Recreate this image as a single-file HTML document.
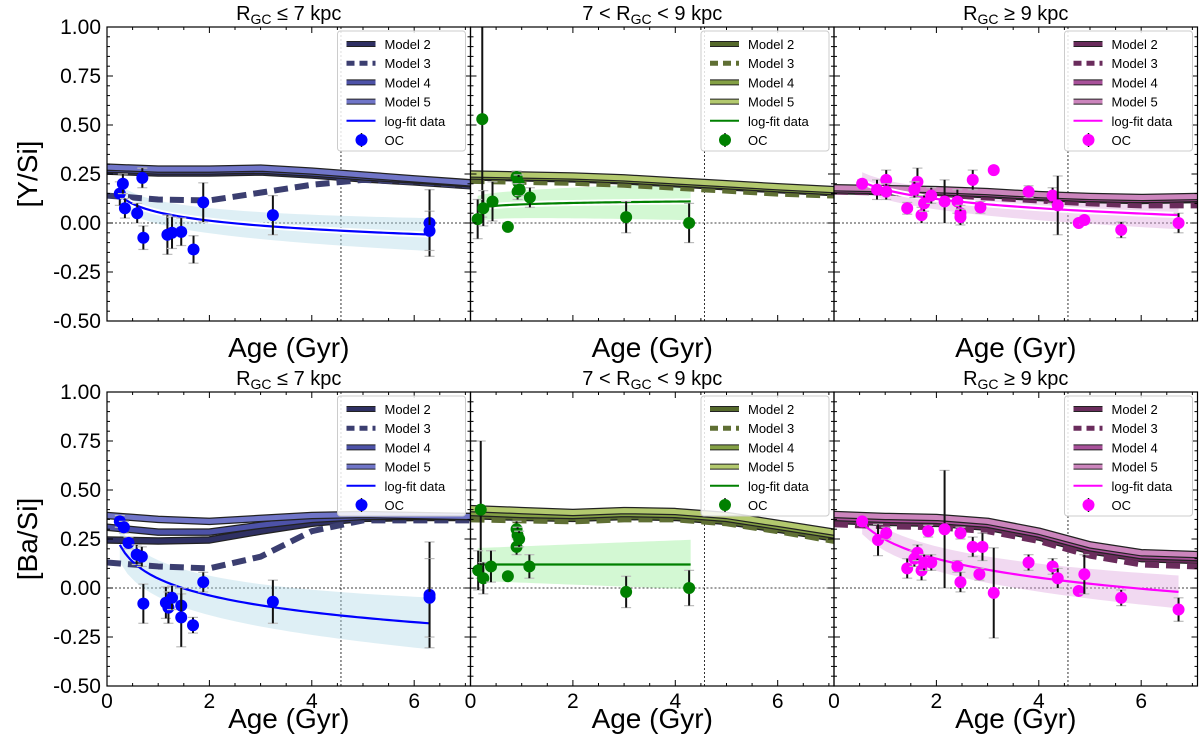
<!DOCTYPE html>
<html><head><meta charset="utf-8"><style>
html,body{margin:0;padding:0;background:#fff;}
svg{display:block;font-family:"Liberation Sans","DejaVu Sans",sans-serif;}
</style></head><body>
<svg id="fig" width="1200" height="748" viewBox="0 0 1200 748" xmlns="http://www.w3.org/2000/svg"></svg>
<script>
// ---- data ----
const modelAges = [0, 1, 2, 3, 4, 5, 6, 7.1];
// top-left [Y/Si], R<=7
const tlM2 = [0.265,0.255,0.255,0.26,0.245,0.225,0.21,0.19];
const tlM3 = [0.14,0.12,0.115,0.155,0.195,0.22,0.21,0.19];
const tlM4 = [0.275,0.265,0.265,0.27,0.255,0.235,0.22,0.20];
const tlM5 = [0.285,0.275,0.275,0.28,0.265,0.245,0.225,0.205];
const tlAge = [0.25,0.31,0.35,0.59,0.69,0.71,1.18,1.27,1.45,1.69,1.88,3.24,6.3,6.3];
const tlVal = [0.15,0.20,0.075,0.05,0.23,-0.075,-0.06,-0.05,-0.045,-0.135,0.105,0.04,0.0,-0.04];
const tlErr = [0.06,0.05,0.05,0.05,0.05,0.06,0.1,0.08,0.07,0.07,0.1,0.1,0.17,0.1];
const tlFit = [0.055,-0.062,0.25,6.3,0.07];
// bottom-left [Ba/Si]
const blM2 = [0.245,0.24,0.245,0.29,0.33,0.355,0.36,0.36];
const blM3 = [0.13,0.11,0.10,0.16,0.29,0.345,0.345,0.345];
const blM4 = [0.31,0.285,0.285,0.32,0.35,0.365,0.365,0.365];
const blM5 = [0.37,0.35,0.34,0.355,0.37,0.375,0.37,0.365];
const blAge = [0.25,0.33,0.42,0.58,0.68,0.71,1.15,1.2,1.27,1.45,1.45,1.68,1.88,3.24,6.3,6.3];
const blVal = [0.34,0.31,0.23,0.17,0.16,-0.08,-0.075,-0.10,-0.05,-0.09,-0.15,-0.19,0.03,-0.07,-0.035,-0.05];
const blErr = [0.03,0.03,0.03,0.05,0.05,0.1,0.08,0.08,0.06,0.06,0.15,0.04,0.05,0.11,0.27,0.2];
const blFit = [0.048,-0.124,0.25,6.3,0.11];
// top-middle [Y/Si], 7<R<9
const tmM2 = [0.235,0.23,0.225,0.215,0.20,0.185,0.17,0.155];
const tmM3 = [0.215,0.21,0.205,0.195,0.18,0.165,0.15,0.14];
const tmM4 = [0.24,0.235,0.23,0.22,0.205,0.19,0.175,0.16];
const tmM5 = [0.25,0.245,0.24,0.23,0.215,0.20,0.185,0.17];
const tmAge = [0.23,0.14,0.25,0.43,0.73,0.9,0.94,0.92,0.96,1.16,3.04,4.27];
const tmVal = [0.53,0.02,0.075,0.11,-0.02,0.235,0.205,0.16,0.17,0.13,0.03,0.0];
const tmErr = [0.5,0.1,0.09,0.1,0.0,0.03,0.04,0.04,0.03,0.05,0.08,0.1];
const tmFit = [0.095,0.0104,0.14,4.3,0.08];
// bottom-middle [Ba/Si]
const bmM2 = [0.37,0.36,0.355,0.365,0.36,0.34,0.30,0.255];
const bmM3 = [0.35,0.345,0.34,0.35,0.35,0.33,0.29,0.24];
const bmM4 = [0.385,0.375,0.37,0.38,0.375,0.355,0.315,0.27];
const bmM5 = [0.405,0.395,0.385,0.395,0.39,0.37,0.33,0.285];
const bmAge = [0.2,0.15,0.25,0.4,0.73,0.9,0.92,0.9,0.95,1.15,3.04,4.27];
const bmVal = [0.40,0.09,0.05,0.11,0.06,0.30,0.27,0.21,0.25,0.11,-0.02,0.0];
const bmErr = [0.35,0.1,0.08,0.08,0.0,0.04,0.04,0.04,0.04,0.06,0.08,0.09];
const bmFit = [0.12,0.0,0.14,4.3,0.105];
// top-right [Y/Si], R>=9
const trM2 = [0.165,0.16,0.155,0.145,0.13,0.12,0.115,0.12];
const trM3 = [0.16,0.155,0.145,0.13,0.115,0.10,0.09,0.09];
const trM4 = [0.17,0.165,0.16,0.15,0.135,0.125,0.12,0.125];
const trM5 = [0.18,0.175,0.17,0.16,0.145,0.135,0.13,0.135];
const trAge = [0.55,0.84,1.02,1.02,1.43,1.63,1.57,1.71,1.76,1.9,2.16,2.41,2.47,2.47,2.71,2.86,3.12,3.8,4.27,4.37,4.78,4.89,5.61,6.73];
const trVal = [0.20,0.17,0.22,0.16,0.075,0.21,0.17,0.04,0.10,0.14,0.11,0.11,0.05,0.03,0.22,0.08,0.27,0.16,0.14,0.09,0.0,0.015,-0.035,0.0];
const trErr = [0.02,0.05,0.05,0.04,0.03,0.07,0.04,0.04,0.04,0.04,0.11,0.06,0.04,0.04,0.05,0.03,0.0,0.03,0.04,0.15,0.0,0.02,0.04,0.05];
const trFit = [0.17,-0.068,0.55,6.73,0.06];
// bottom-right [Ba/Si]
const brM2 = [0.345,0.335,0.33,0.31,0.26,0.19,0.15,0.14];
const brM3 = [0.325,0.315,0.31,0.29,0.24,0.165,0.12,0.11];
const brM4 = [0.36,0.35,0.345,0.325,0.275,0.205,0.165,0.155];
const brM5 = [0.375,0.365,0.36,0.34,0.29,0.22,0.18,0.17];
const brAge = [0.55,0.86,1.02,1.43,1.57,1.63,1.71,1.76,1.9,1.84,2.16,2.41,2.47,2.47,2.71,2.84,2.9,3.12,3.8,4.27,4.37,4.78,4.89,5.61,6.73];
const brVal = [0.34,0.245,0.28,0.10,0.15,0.18,0.09,0.13,0.13,0.29,0.30,0.11,0.28,0.03,0.21,0.07,0.21,-0.025,0.13,0.11,0.05,-0.015,0.07,-0.05,-0.11];
const brErr = [0.02,0.08,0.03,0.05,0.04,0.04,0.05,0.04,0.04,0.03,0.3,0.03,0.03,0.05,0.05,0.03,0.07,0.23,0.04,0.04,0.05,0.0,0.1,0.04,0.06];
const brFit = [0.247,-0.14,0.55,6.73,0.07];

const yTicks = [-0.50,-0.25,0.00,0.25,0.50,0.75,1.00];
const xTicks = [0,2,4,6];

const NS = "http://www.w3.org/2000/svg";
const svg = document.getElementById('fig');
function mk(tag, attrs, parent){
  const e = document.createElementNS(NS, tag);
  for (const k in attrs) e.setAttribute(k, attrs[k]);
  (parent||svg).appendChild(e);
  return e;
}
const panelX = [107, 470.5, 834];
const panelW = 363.5;
const rowTop = [27, 392];
const rowH = 294;
const XMAX = 7.1;

const palettes = [
  {m:['#2f3063','#3b3e70','#4d52a8','#7075c8'], fit:'#0000ff', band:'#add8e6', oc:'#0000ff'},
  {m:['#55692b','#5f6f33','#84a045','#b3c96e'], fit:'#008000', band:'#90ee90', oc:'#008000'},
  {m:['#6a2c5c','#6a2c5c','#a8519a','#cc85bd'], fit:'#ff00ff', band:'#dda0dd', oc:'#ff00ff'}
];
const titles = [['R','GC',' ≤ 7 kpc'],['7 < R','GC',' < 9 kpc'],['R','GC',' ≥ 9 kpc']];

const panels = [
  {r:0,c:0,m:[tlM2,tlM3,tlM4,tlM5],a:tlAge,v:tlVal,e:tlErr,f:tlFit,name:'ysi-inner'},
  {r:0,c:1,m:[tmM2,tmM3,tmM4,tmM5],a:tmAge,v:tmVal,e:tmErr,f:tmFit,name:'ysi-solar'},
  {r:0,c:2,m:[trM2,trM3,trM4,trM5],a:trAge,v:trVal,e:trErr,f:trFit,name:'ysi-outer'},
  {r:1,c:0,m:[blM2,blM3,blM4,blM5],a:blAge,v:blVal,e:blErr,f:blFit,name:'basi-inner'},
  {r:1,c:1,m:[bmM2,bmM3,bmM4,bmM5],a:bmAge,v:bmVal,e:bmErr,f:bmFit,name:'basi-solar'},
  {r:1,c:2,m:[brM2,brM3,brM4,brM5],a:brAge,v:brVal,e:brErr,f:brFit,name:'basi-outer'}
];

panels.forEach(p=>{
  const X = t => panelX[p.c] + t/XMAX*panelW;
  const Y = v => rowTop[p.r] + (1.0 - v)/1.5*rowH;
  const pal = palettes[p.c];
  const g = mk('g',{});
  
  
  const x0 = panelX[p.c], x1 = x0+panelW, y0 = rowTop[p.r], y1 = y0+rowH;
  const cp = 'clip'+p.r+p.c;
  const cpe = mk('clipPath',{id:cp}, g);
  mk('rect',{x:x0,y:y0,width:panelW,height:rowH},cpe);
  const inner = mk('g',{'clip-path':'url(#'+cp+')'}, g);
  const hz = mk('line',{x1:x0,x2:x1,y1:Y(0),y2:Y(0),stroke:'#000','stroke-width':0.8,'stroke-dasharray':'2,2'},inner);
  
  
  const vt = mk('line',{x1:X(4.57),x2:X(4.57),y1:y0,y2:y1,stroke:'#000','stroke-width':0.8,'stroke-dasharray':'2,2'},inner);
  
  
  const [fa,fb,fs,fe,fw] = p.f;
  const fit = t => fa + fb*Math.log(t);
  let up=[], dn=[];
  for(let i=0;i<=40;i++){const t=fs+(fe-fs)*i/40; up.push(X(t)+','+Y(fit(t)+fw*(0.8+0.4*i/40))); dn.push(X(t)+','+Y(fit(t)-fw*(0.8+0.4*i/40)));}
  const band = mk('polygon',{points:up.concat(dn.reverse()).join(' '),fill:pal.band,'fill-opacity':0.4},inner);
  
  
  [0,1,2,3].forEach(k=>{
    const pts = modelAges.map((t,i)=>X(t)+','+Y(p.m[k][i])).join(' ');
    const dash = k===1 ? '14,7' : 'none';
    if(k!==1){
      const o = mk('polyline',{points:pts,fill:'none',stroke:'#222','stroke-width':7.5,'stroke-linejoin':'round'},inner);
      
      
    }
    const l = mk('polyline',{points:pts,fill:'none',stroke:pal.m[k],'stroke-width':k===1?6:5,'stroke-dasharray':dash,'stroke-linejoin':'round'},inner);
    
    
  });
  let fp=[]; for(let i=0;i<=60;i++){const t=fs+(fe-fs)*i/60; fp.push(X(t)+','+Y(fit(t)));}
  if(p.r===0){ const w=mk('polyline',{points:fp.join(' '),fill:'none',stroke:'#fff','stroke-width':6},inner);
    
     }
  const fl = mk('polyline',{points:fp.join(' '),fill:'none',stroke:pal.fit,'stroke-width':2.2},inner);
  
  
  p.a.forEach((t,i)=>{
    const cx=X(t), cy=Y(p.v[i]), e=p.e[i];
    if(e>0){
      mk('line',{x1:cx-5,x2:cx+5,y1:Y(p.v[i]+e),y2:Y(p.v[i]+e),stroke:'#bbb','stroke-width':1.2},inner);
      mk('line',{x1:cx-5,x2:cx+5,y1:Y(p.v[i]-e),y2:Y(p.v[i]-e),stroke:'#bbb','stroke-width':1.2},inner);
      const eb = mk('line',{x1:cx,x2:cx,y1:Y(p.v[i]+e),y2:Y(p.v[i]-e),stroke:'#111','stroke-width':2},inner);
      
      
    }
    const c = mk('circle',{cx:cx,cy:cy,r:6,fill:pal.oc},inner);
    
    
  });
  mk('rect',{x:x0,y:y0,width:panelW,height:rowH,fill:'none',stroke:'#000','stroke-width':1.2},g);
  for(let v=-0.5; v<=1.0001; v+=0.05){
    const major = Math.abs(Math.round(v*4)-v*4)<1e-6;
    const L = major?6:3;
    mk('line',{x1:x0,x2:x0+L,y1:Y(v),y2:Y(v),stroke:'#000','stroke-width':1},g);
    mk('line',{x1:x1,x2:x1-L,y1:Y(v),y2:Y(v),stroke:'#000','stroke-width':1},g);
  }
  for(let t=0; t<=7.0001; t+=0.5){
    const major = Math.abs(t%2)<1e-6;
    const L = major?6:3;
    mk('line',{x1:X(t),x2:X(t),y1:y1,y2:y1-L,stroke:'#000','stroke-width':1},g);
    mk('line',{x1:X(t),x2:X(t),y1:y0,y2:y0+L,stroke:'#000','stroke-width':1},g);
  }
  if(p.c===0){
    yTicks.forEach(v=>{
      const tx = mk('text',{x:x0-6,y:Y(v)+7,'text-anchor':'end','font-size':21},g);
      tx.textContent = v.toFixed(2);
      
      
    });
    const yl = mk('text',{x:0,y:0,'text-anchor':'middle','font-size':28,transform:'translate(37,'+(y0+rowH/2)+') rotate(-90)'},g);
    yl.textContent = p.r===0?'[Y/Si]':'[Ba/Si]';
    
    
  }
  if(p.r===1){
    xTicks.forEach(t=>{
      const tx = mk('text',{x:X(t),y:y1+22,'text-anchor':'middle','font-size':21},g);
      tx.textContent = t;
      
      
    });
  }
  const xl = mk('text',{x:x0+panelW/2,y:y1+(p.r===0?36:42),'text-anchor':'middle','font-size':28},g);
  xl.textContent = 'Age (Gyr)';
  
  
  const tt = titles[p.c];
  const ti = mk('text',{x:x0+panelW/2,y:y0-7,'text-anchor':'middle','font-size':20},g);
  
  
  const s1 = mk('tspan',{},ti); s1.textContent=tt[0];
  const s2 = mk('tspan',{'font-size':14,dy:4},ti); s2.textContent=tt[1];
  const s3 = mk('tspan',{dy:-4},ti); s3.textContent=tt[2];
  const lg = mk('g',{},g);
  
  
  const lx = x1-133, ly = y0+4;
  mk('rect',{x:lx,y:ly,width:128,height:120,rx:3,fill:'#fff','fill-opacity':0.85,stroke:'#ccc','stroke-width':1},lg);
  const labels = ['Model 2','Model 3','Model 4','Model 5','log-fit data','OC'];
  labels.forEach((lab,i)=>{
    const yy = ly+13+i*19.2;
    if(i<4){
      if(i!==1) mk('line',{x1:lx+9,x2:lx+38,y1:yy,y2:yy,stroke:'#222','stroke-width':6},lg);
      mk('line',{x1:lx+9,x2:lx+38,y1:yy,y2:yy,stroke:pal.m[i],'stroke-width':i===1?5:4,'stroke-dasharray':i===1?'8,5':'none'},lg);
    } else if(i===4){
      mk('line',{x1:lx+9,x2:lx+38,y1:yy,y2:yy,stroke:pal.fit,'stroke-width':2},lg);
    } else {
      mk('line',{x1:lx+24,x2:lx+24,y1:yy-7,y2:yy+7,stroke:'#111','stroke-width':1.5},lg);
      mk('circle',{cx:lx+24,cy:yy,r:6,fill:pal.oc},lg);
    }
    const lt = mk('text',{x:lx+47,y:yy+5,'font-size':13},lg);
    lt.textContent = lab;
    
    
  });
});
</script>
</body></html>
